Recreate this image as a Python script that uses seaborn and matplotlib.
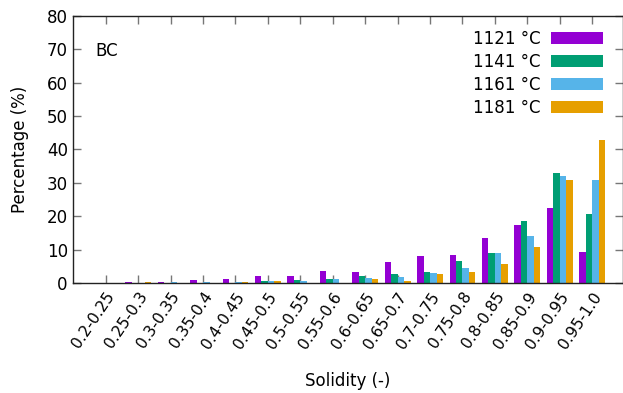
import matplotlib
matplotlib.use("Agg")
import matplotlib.pyplot as plt
import matplotlib.transforms as mtransforms
import seaborn as sns
import pandas as pd

# Solidity classes (x categories)
categories = ["0.2-0.25", "0.25-0.3", "0.3-0.35", "0.35-0.4", "0.4-0.45",
              "0.45-0.5", "0.5-0.55", "0.55-0.6", "0.6-0.65", "0.65-0.7",
              "0.7-0.75", "0.75-0.8", "0.8-0.85", "0.85-0.9", "0.9-0.95",
              "0.95-1.0"]

# Percentage of particles per solidity class, one list per temperature
t1121 = [0.0, 0.3, 0.3, 0.9, 1.1, 2.1, 2.2, 3.6, 3.4, 6.2, 8.1, 8.5, 13.5, 17.5, 22.3, 9.3]
t1141 = [0.0, 0.0, 0.0, 0.0, 0.0, 0.5, 0.9, 1.3, 2.0, 2.8, 3.3, 6.7, 9.1, 18.7, 33.0, 20.8]
t1161 = [0.0, 0.0, 0.2, 0.2, 0.2, 0.6, 0.6, 1.2, 1.4, 1.7, 3.1, 4.5, 8.9, 14.0, 31.9, 30.8]
t1181 = [0.0, 0.3, 0.0, 0.0, 0.4, 0.6, 0.0, 0.0, 1.3, 0.7, 2.6, 3.4, 5.6, 10.7, 30.7, 42.9]

series_names = ["1121 °C", "1141 °C", "1161 °C", "1181 °C"]
series_values = [t1121, t1141, t1161, t1181]
colors = ["#9400D3", "#009E73", "#56B4E9", "#E69F00"]

y_ticks = [0, 10, 20, 30, 40, 50, 60, 70, 80]

rows = []
for name, vals in zip(series_names, series_values):
    for cat, v in zip(categories, vals):
        rows.append({"Solidity": cat, "Percentage": v, "Temperature": name})
df = pd.DataFrame(rows)

sns.set_style("white")
plt.rcParams["font.family"] = ["DejaVu Sans"]
plt.rcParams["text.color"] = "black"
plt.rcParams["axes.labelcolor"] = "black"
plt.rcParams["xtick.labelcolor"] = "black"
plt.rcParams["ytick.labelcolor"] = "black"

fig = plt.figure(figsize=(6.23, 3.93), dpi=100)
ax = fig.add_axes([0.1177, 0.2799, 0.8823, 0.6801])

sns.barplot(data=df, x="Solidity", y="Percentage", hue="Temperature",
            order=categories, hue_order=series_names, palette=colors,
            width=0.8, linewidth=0, saturation=1, errorbar=None, ax=ax)

ax.set_xlim(-1, 15.95)
ax.set_ylim(0, 80)
ax.set_yticks(y_ticks)
ax.set_xticks(range(len(categories)))
ax.set_xticklabels(categories, rotation=56, ha="right", va="center",
                   rotation_mode="anchor", fontsize=11.2)
ax.tick_params(axis="y", labelsize=12)
ax.tick_params(direction="in", length=6, width=1, color="#777777",
               top=True, right=True, bottom=True, left=True, pad=4)
ax.tick_params(axis="x", pad=7.5)

# nudge the rotated category labels slightly to the right of their ticks
shift = mtransforms.ScaledTranslation(0.06, 0, fig.dpi_scale_trans)
for lbl in ax.get_xticklabels():
    lbl.set_transform(lbl.get_transform() + shift)

for sp in ax.spines.values():
    sp.set_visible(True)
    sp.set_color("#222222")
    sp.set_linewidth(1.0)

ax.set_xlabel("Solidity (-)", fontsize=12, labelpad=15)
ax.set_ylabel("Percentage (%)", fontsize=12, labelpad=13)

ax.text(0.04, 0.867, "BC", transform=ax.transAxes, fontsize=12,
        ha="left", va="center")

leg = ax.legend(loc="upper right", frameon=False, markerfirst=False,
                fontsize=12, handlelength=3.1, handleheight=0.7,
                labelspacing=0.3, handletextpad=0.6,
                borderaxespad=0.3, bbox_to_anchor=(0.984, 0.99))

fig.savefig("out.png", dpi=100)
